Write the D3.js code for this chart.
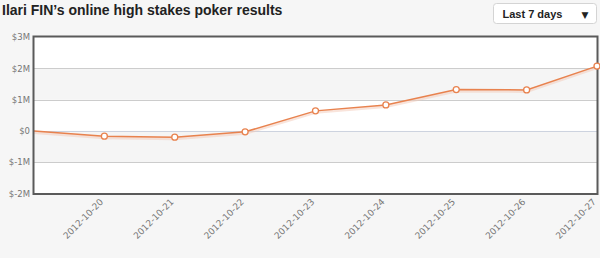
<!DOCTYPE html>
<html>
<head>
<meta charset="utf-8">
<script src="https://cdn.jsdelivr.net/npm/d3@7"></script>
<style>
  body { margin: 0; background: #f6f6f6; }
  svg { display: block; }
</style>
</head>
<body>
<svg id="chart" width="600" height="258"></svg>
<script>
const width = 600;
const height = 258;

// data
const dates = ['2012-10-19', '2012-10-20', '2012-10-21', '2012-10-22', '2012-10-23',
    '2012-10-24', '2012-10-25', '2012-10-26', '2012-10-27'];
const results = [0, -0.17, -0.2, -0.03, 0.64, 0.83, 1.32, 1.31, 2.07]; // millions $
const yTicks = [-2, -1, 0, 1, 2, 3];
const title = "Ilari FIN\u2019s online high stakes poker results";
const periodLabel = 'Last 7 days';

const plot = { left: 34, right: 597, top: 37, bottom: 193.5 };

const svg = d3.select('#chart');

const x = d3.scalePoint()
    .domain(dates)
    .range([plot.left, plot.right])
    .padding(0);

const y = d3.scaleLinear()
    .domain([-2, 3])
    .range([plot.bottom, plot.top]);

// title
svg.append('text')
    .attr('x', 2)
    .attr('y', 15)
    .style('font-family', 'Liberation Sans, Arial, sans-serif')
    .style('font-weight', 'bold')
    .style('font-size', '14px')
    .attr('fill', '#222')
    .text(title);

// dropdown
const dd = svg.append('g').attr('transform', 'translate(493.5,3.5)');
dd.append('rect')
    .attr('width', 103)
    .attr('height', 20)
    .attr('rx', 3)
    .attr('fill', '#fff')
    .attr('stroke', '#d4d4d4');
dd.append('text')
    .attr('x', 9)
    .attr('y', 14)
    .style('font-family', 'Liberation Sans, Arial, sans-serif')
    .style('font-weight', 'bold')
    .style('font-size', '11px')
    .attr('fill', '#222')
    .text(periodLabel);
dd.append('text')
    .attr('x', 88)
    .attr('y', 14)
    .style('font-family', 'DejaVu Sans, sans-serif')
    .style('font-size', '9px')
    .attr('fill', '#222')
    .text('\u25BC');

// alternating bands
const bands = yTicks.slice(0, -1);
svg.append('g').selectAll('rect')
    .data(bands)
    .enter()
    .append('rect')
    .attr('x', plot.left)
    .attr('width', plot.right - plot.left)
    .attr('y', d => y(d + 1))
    .attr('height', d => y(d) - y(d + 1))
    .attr('fill', (d, i) => (i % 2 === 0) ? '#ffffff' : '#f5f5f5');

// grid lines
svg.append('g').selectAll('line')
    .data(yTicks.slice(1, -1))
    .enter()
    .append('line')
    .attr('x1', plot.left)
    .attr('x2', plot.right)
    .attr('y1', d => Math.round(y(d)) + 0.5)
    .attr('y2', d => Math.round(y(d)) + 0.5)
    .attr('stroke', d => d === 0 ? '#cdd3df' : '#cccccc')
    .attr('stroke-width', 1);

// y axis labels
const yAxis = d3.axisLeft(y)
    .tickValues(yTicks)
    .tickSize(0)
    .tickPadding(4)
    .tickFormat(d => d === 0 ? '$0' : '$' + d + 'M');
const yG = svg.append('g')
    .attr('transform', 'translate(' + plot.left + ',0)')
    .call(yAxis);
yG.select('.domain').remove();
yG.selectAll('text')
    .style('font-family', 'DejaVu Sans, Verdana, sans-serif')
    .style('font-size', '8.5px')
    .attr('fill', '#777');

// x axis labels
const xAxis = d3.axisBottom(x)
    .tickValues(dates.slice(1))
    .tickSize(0)
    .tickPadding(0);
const xG = svg.append('g')
    .attr('transform', 'translate(0,' + plot.bottom + ')')
    .call(xAxis);
xG.select('.domain').remove();
xG.selectAll('text')
    .style('font-family', 'DejaVu Sans, Verdana, sans-serif')
    .style('font-size', '9px')
    .attr('fill', '#777')
    .attr('text-anchor', 'end')
    .attr('dy', null)
    .attr('y', 0)
    .attr('transform', 'translate(-1,9) rotate(-45)');

// line
const line = d3.line()
    .x((d, i) => x(dates[i]))
    .y(d => y(d));

svg.append('path')
    .datum(results)
    .attr('d', line)
    .attr('fill', 'none')
    .attr('stroke', '#f4c9b8')
    .attr('stroke-width', 3)
    .attr('stroke-opacity', 0.5)
    .attr('transform', 'translate(0,1.5)');

svg.append('path')
    .datum(results)
    .attr('d', line)
    .attr('fill', 'none')
    .attr('stroke', '#e8824e')
    .attr('stroke-width', 1.5);

// frame
svg.append('rect')
    .attr('x', plot.left - 0.5)
    .attr('y', plot.top - 0.5)
    .attr('width', plot.right - plot.left + 1)
    .attr('height', plot.bottom - plot.top + 1)
    .attr('fill', 'none')
    .attr('stroke', '#5a5a5a')
    .attr('stroke-width', 2);

// markers (first day has none)
svg.append('g').selectAll('circle')
    .data(results.slice(1))
    .enter()
    .append('circle')
    .attr('cx', (d, i) => x(dates[i + 1]))
    .attr('cy', d => y(d))
    .attr('r', 3)
    .attr('fill', '#fff')
    .attr('stroke', '#e8824e')
    .attr('stroke-width', 1.3);
</script>
</body>
</html>
